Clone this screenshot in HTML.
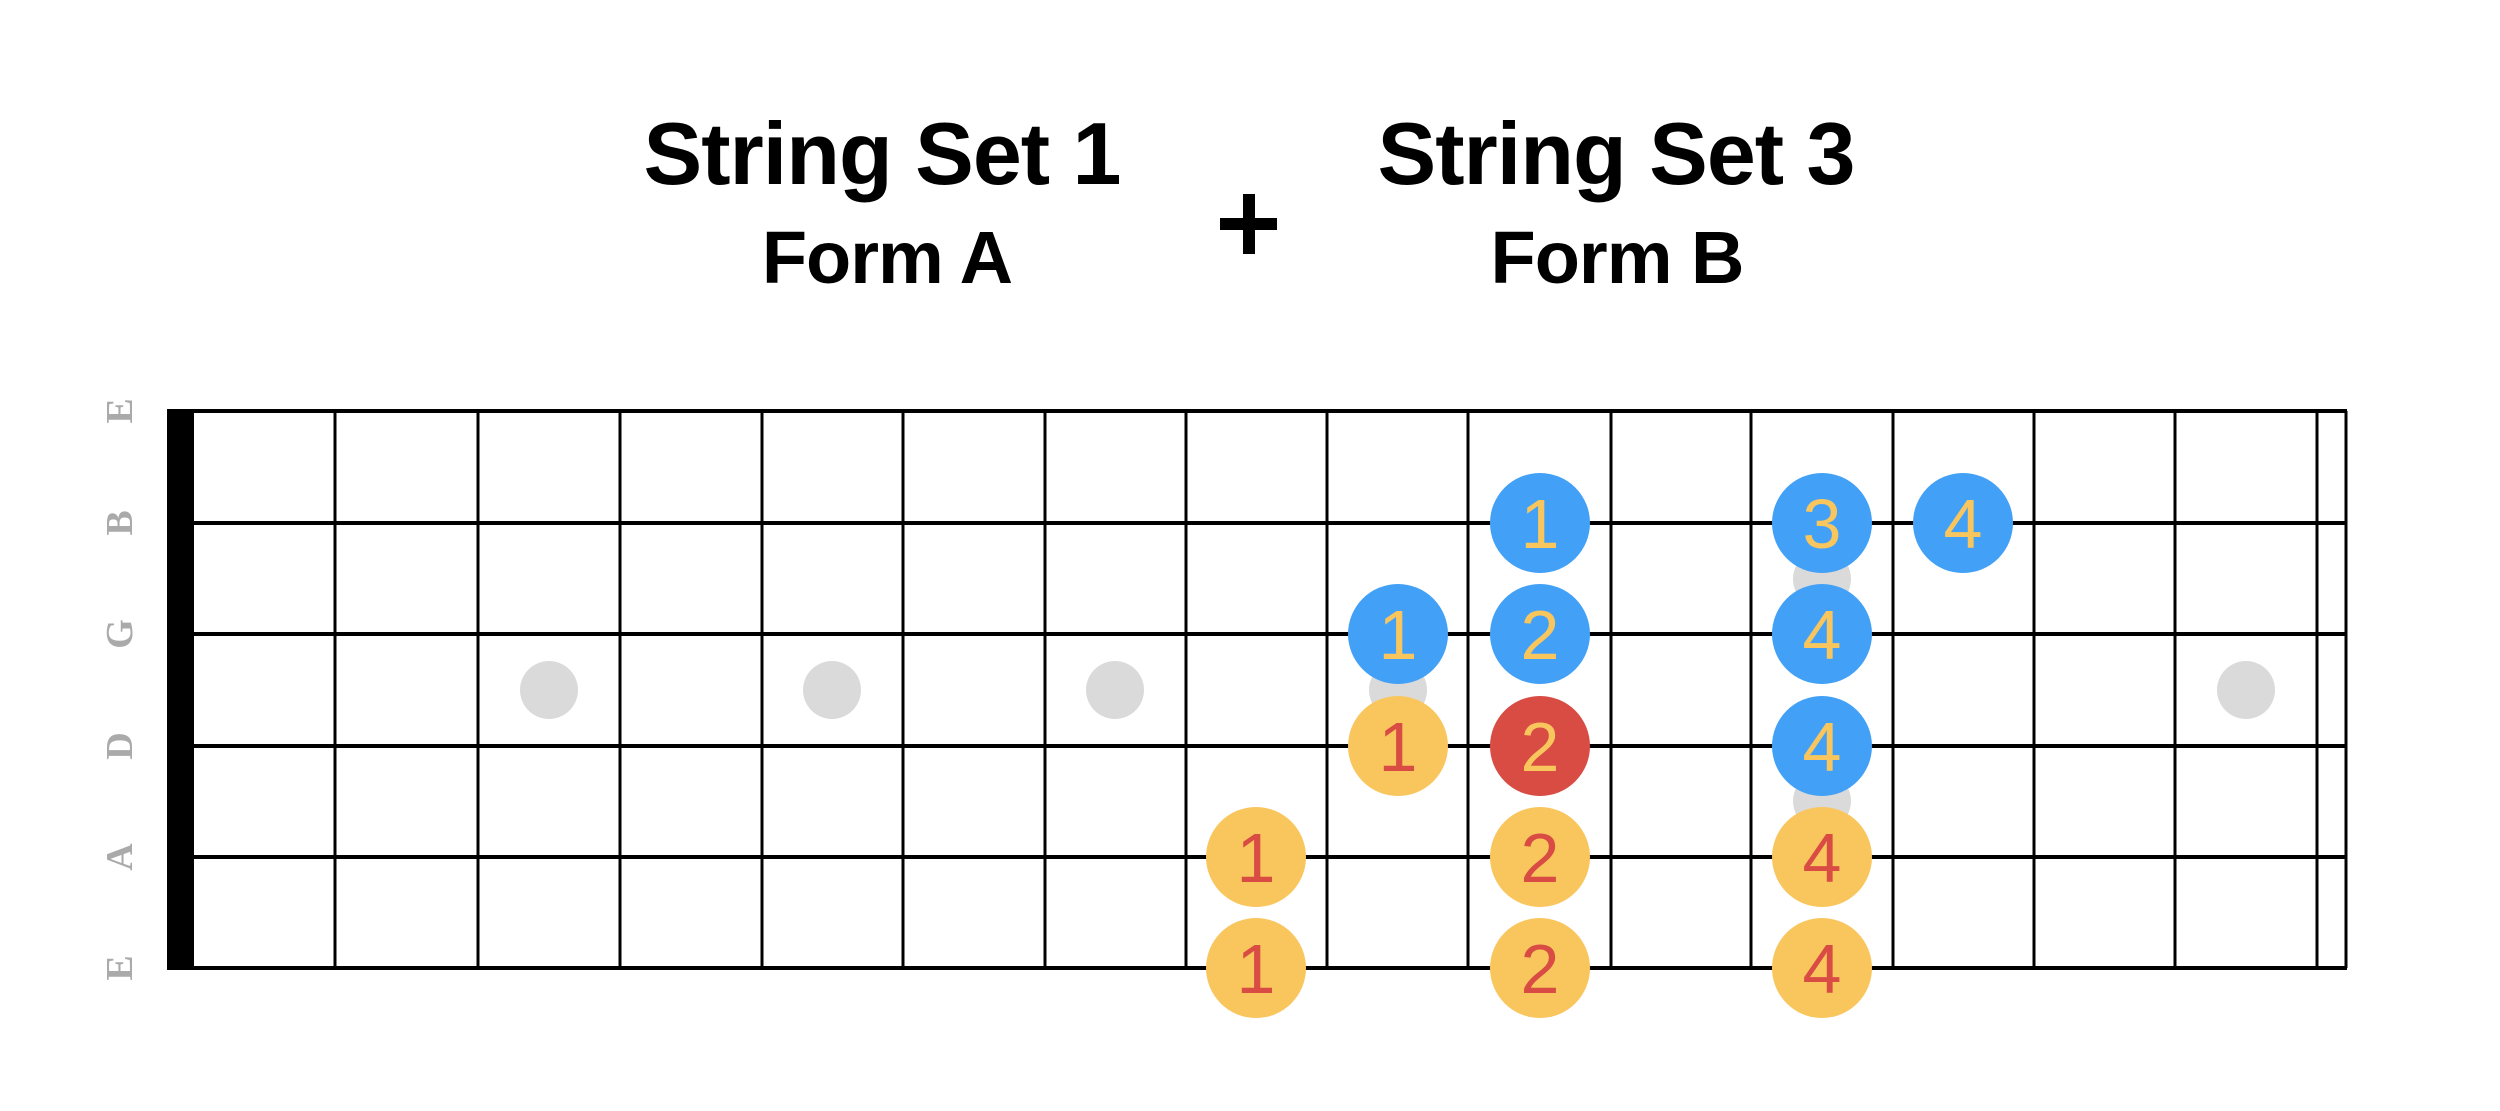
<!DOCTYPE html>
<html><head><meta charset="utf-8"><style>
html,body{margin:0;padding:0;background:#fff;}
svg{display:block}
</style></head><body>
<svg width="2500" height="1111" viewBox="0 0 2500 1111" xmlns="http://www.w3.org/2000/svg">
<rect width="2500" height="1111" fill="#fff"/>
<g font-family="Liberation Sans, sans-serif" font-weight="bold" fill="#000" text-anchor="middle">
<text x="882" y="184" font-size="88" letter-spacing="-1">String Set 1</text>
<text x="1616" y="184" font-size="88" letter-spacing="-1">String Set 3</text>
<text x="887" y="283" font-size="74" letter-spacing="-1">Form A</text>
<text x="1617" y="283" font-size="74" letter-spacing="-1">Form B</text>
</g>
<rect x="1243" y="194" width="12" height="60" fill="#000"/>
<rect x="1220" y="218" width="57" height="12" fill="#000"/>
<g font-family="Liberation Serif, serif" font-weight="bold" font-size="38" fill="#aaa" text-anchor="middle">
<text transform="translate(132,411) rotate(-90)">E</text>
<text transform="translate(132,523) rotate(-90)">B</text>
<text transform="translate(132,634) rotate(-90)">G</text>
<text transform="translate(132,746) rotate(-90)">D</text>
<text transform="translate(132,857) rotate(-90)">A</text>
<text transform="translate(132,968) rotate(-90)">E</text>
</g>
<g fill="#dadada">
<circle cx="549" cy="690" r="29"/>
<circle cx="832" cy="690" r="29"/>
<circle cx="1115" cy="690" r="29"/>
<circle cx="1398" cy="690" r="29"/>
<circle cx="1822" cy="579" r="29"/>
<circle cx="1822" cy="801" r="29"/>
<circle cx="2246" cy="690" r="29"/>
</g>
<g stroke="#000" stroke-width="4">
<line x1="167" y1="411" x2="2347" y2="411"/>
<line x1="167" y1="523" x2="2347" y2="523"/>
<line x1="167" y1="634" x2="2347" y2="634"/>
<line x1="167" y1="746" x2="2347" y2="746"/>
<line x1="167" y1="857" x2="2347" y2="857"/>
<line x1="167" y1="968" x2="2347" y2="968"/>
</g>
<g stroke="#000" stroke-width="3">
<line x1="335" y1="411" x2="335" y2="968"/>
<line x1="478" y1="411" x2="478" y2="968"/>
<line x1="620" y1="411" x2="620" y2="968"/>
<line x1="762" y1="411" x2="762" y2="968"/>
<line x1="903" y1="411" x2="903" y2="968"/>
<line x1="1045" y1="411" x2="1045" y2="968"/>
<line x1="1186" y1="411" x2="1186" y2="968"/>
<line x1="1327" y1="411" x2="1327" y2="968"/>
<line x1="1468" y1="411" x2="1468" y2="968"/>
<line x1="1611" y1="411" x2="1611" y2="968"/>
<line x1="1751" y1="411" x2="1751" y2="968"/>
<line x1="1893" y1="411" x2="1893" y2="968"/>
<line x1="2034" y1="411" x2="2034" y2="968"/>
<line x1="2175" y1="411" x2="2175" y2="968"/>
<line x1="2317" y1="411" x2="2317" y2="968"/>
<line x1="2346" y1="411" x2="2346" y2="968"/>
</g>
<rect x="167" y="409" width="27" height="561" fill="#000"/>
<g font-family="Liberation Sans, sans-serif" font-size="70" text-anchor="middle">
<circle cx="1540" cy="523" r="50" fill="#42a1f7"/><text x="1540" y="548" fill="#f9c65e">1</text>
<circle cx="1822" cy="523" r="50" fill="#42a1f7"/><text x="1822" y="548" fill="#f9c65e">3</text>
<circle cx="1963" cy="523" r="50" fill="#42a1f7"/><text x="1963" y="548" fill="#f9c65e">4</text>
<circle cx="1398" cy="634" r="50" fill="#42a1f7"/><text x="1398" y="659" fill="#f9c65e">1</text>
<circle cx="1540" cy="634" r="50" fill="#42a1f7"/><text x="1540" y="659" fill="#f9c65e">2</text>
<circle cx="1822" cy="634" r="50" fill="#42a1f7"/><text x="1822" y="659" fill="#f9c65e">4</text>
<circle cx="1398" cy="746" r="50" fill="#f9c65e"/><text x="1398" y="771" fill="#d84c44">1</text>
<circle cx="1540" cy="746" r="50" fill="#d84c44"/><text x="1540" y="771" fill="#f9c65e">2</text>
<circle cx="1822" cy="746" r="50" fill="#42a1f7"/><text x="1822" y="771" fill="#f9c65e">4</text>
<circle cx="1256" cy="857" r="50" fill="#f9c65e"/><text x="1256" y="882" fill="#d84c44">1</text>
<circle cx="1540" cy="857" r="50" fill="#f9c65e"/><text x="1540" y="882" fill="#d84c44">2</text>
<circle cx="1822" cy="857" r="50" fill="#f9c65e"/><text x="1822" y="882" fill="#d84c44">4</text>
<circle cx="1256" cy="968" r="50" fill="#f9c65e"/><text x="1256" y="993" fill="#d84c44">1</text>
<circle cx="1540" cy="968" r="50" fill="#f9c65e"/><text x="1540" y="993" fill="#d84c44">2</text>
<circle cx="1822" cy="968" r="50" fill="#f9c65e"/><text x="1822" y="993" fill="#d84c44">4</text>
</g>
</svg>
</body></html>
